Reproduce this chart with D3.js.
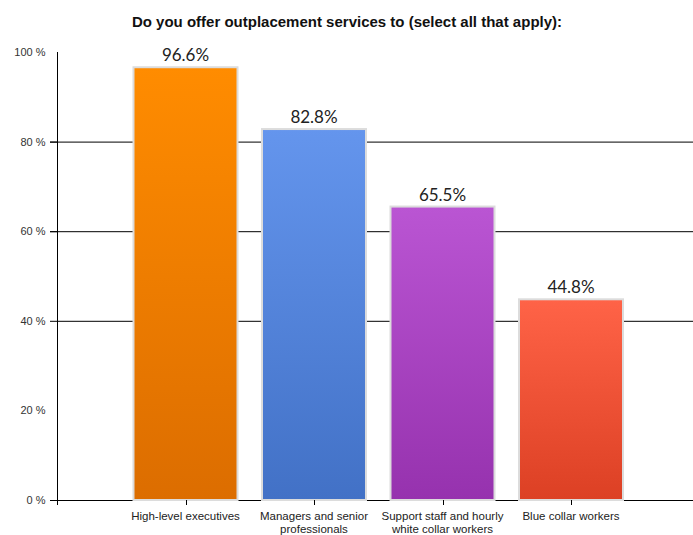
<!DOCTYPE html>
<html>
<head>
<meta charset="utf-8">
<script src="https://cdn.jsdelivr.net/npm/d3@7"></script>
<style>
  body { margin: 0; background: #fff; }
  svg { display: block; }
</style>
</head>
<body>
<div id="chart"></div>
<script>
const categories = ['High-level executives', 'Managers and senior professionals', 'Support staff and hourly white collar workers', 'Blue collar workers'];
const labelLines = [['High-level executives'], ['Managers and senior', 'professionals'], ['Support staff and hourly', 'white collar workers'], ['Blue collar workers']];
const values = [96.6, 82.8, 65.5, 44.8];
const yTicks = [0, 20, 40, 60, 80, 100];
const gridTicks = [40, 60, 80];
const topColors = ['#ff8c00', '#6495ed', '#ba55d3', '#ff6347'];
const bottomColors = ['#dc6d00', '#4271c6', '#9632ae', '#dc4024'];

const width = 693, height = 535;
const svg = d3.select('#chart').append('svg')
  .attr('width', width)
  .attr('height', height);

const y = d3.scaleLinear().domain([0, 100]).range([500, 52]);
const x = d3.scaleLinear().domain([0, 5]).range([57, 699.5]);
const barW = 104;

// gradientes
const defs = svg.append('defs');
topColors.forEach((c, i) => {
  const g = defs.append('linearGradient')
    .attr('id', 'g' + i)
    .attr('x1', 0).attr('y1', 0).attr('x2', 0).attr('y2', 1);
  g.append('stop').attr('offset', '0%').attr('stop-color', c);
  g.append('stop').attr('offset', '100%').attr('stop-color', bottomColors[i]);
});

// titulo
svg.append('text')
  .attr('x', 347)
  .attr('y', 27)
  .attr('text-anchor', 'middle')
  .attr('font-family', 'Liberation Sans, Arial, sans-serif')
  .attr('font-weight', 'bold')
  .attr('font-size', 15)
  .attr('fill', '#111')
  .text('Do you offer outplacement services to (select all that apply):');

// lineas de la grilla
svg.selectAll('.grid')
  .data(gridTicks)
  .enter().append('line')
  .attr('x1', 50).attr('x2', width)
  .attr('y1', d => y(d) + 0.5).attr('y2', d => y(d) + 0.5)
  .attr('stroke', '#000');

// eje y
const yAxis = d3.axisLeft(y)
  .tickValues(yTicks)
  .tickFormat(d => d + ' %')
  .tickSize(0)
  .tickPadding(12);
const gy = svg.append('g')
  .attr('transform', 'translate(57.5,0)')
  .call(yAxis);
gy.select('.domain').remove();
gy.selectAll('text')
  .attr('font-family', 'Liberation Sans, Arial, sans-serif')
  .attr('font-size', 11)
  .attr('fill', '#333')
  .attr('dy', '0.32em');

svg.append('line')
  .attr('x1', 57.5).attr('x2', 57.5)
  .attr('y1', y(100)).attr('y2', 505)
  .attr('stroke', '#000');
svg.append('line')
  .attr('x1', 50).attr('x2', width)
  .attr('y1', y(0) + 0.5).attr('y2', y(0) + 0.5)
  .attr('stroke', '#000');
svg.selectAll('.ytick')
  .data([0, 60, 80])
  .enter().append('line')
  .attr('x1', 50).attr('x2', 57)
  .attr('y1', d => y(d) + 0.5).attr('y2', d => y(d) + 0.5)
  .attr('stroke', '#000');

// barras
svg.selectAll('.bar')
  .data(values)
  .enter().append('rect')
  .attr('x', (d, i) => x(i + 1) - barW / 2)
  .attr('y', d => y(d))
  .attr('width', barW)
  .attr('height', d => y(0) - y(d))
  .attr('fill', (d, i) => 'url(#g' + i + ')')
  .attr('stroke', '#dcdcdc')
  .attr('stroke-width', 2);

// etiquetas de valores
svg.selectAll('.val')
  .data(values)
  .enter().append('text')
  .attr('x', (d, i) => x(i + 1))
  .attr('y', d => y(d) - 6)
  .attr('text-anchor', 'middle')
  .attr('font-family', 'Lato, sans-serif')
  .attr('font-size', 17)
  .attr('fill', '#222')
  .text(d => d.toFixed(1) + '%');

// marcas y etiquetas de categorias
svg.selectAll('.xtick')
  .data(categories)
  .enter().append('line')
  .attr('x1', (d, i) => Math.round(x(i + 1)) + 0.5).attr('x2', (d, i) => Math.round(x(i + 1)) + 0.5)
  .attr('y1', y(0)).attr('y2', y(0) + 5)
  .attr('stroke', '#000');

const cat = svg.selectAll('.cat')
  .data(labelLines)
  .enter().append('text')
  .attr('x', (d, i) => x(i + 1))
  .attr('y', 520)
  .attr('text-anchor', 'middle')
  .attr('font-family', 'Liberation Sans, Arial, sans-serif')
  .attr('font-size', 11.5)
  .attr('fill', '#222');
cat.selectAll('tspan')
  .data(d => d)
  .enter().append('tspan')
  .attr('x', function () { return this.parentNode.getAttribute('x'); })
  .attr('dy', (d, i) => i === 0 ? 0 : 13)
  .text(d => d);
</script>
</body>
</html>
